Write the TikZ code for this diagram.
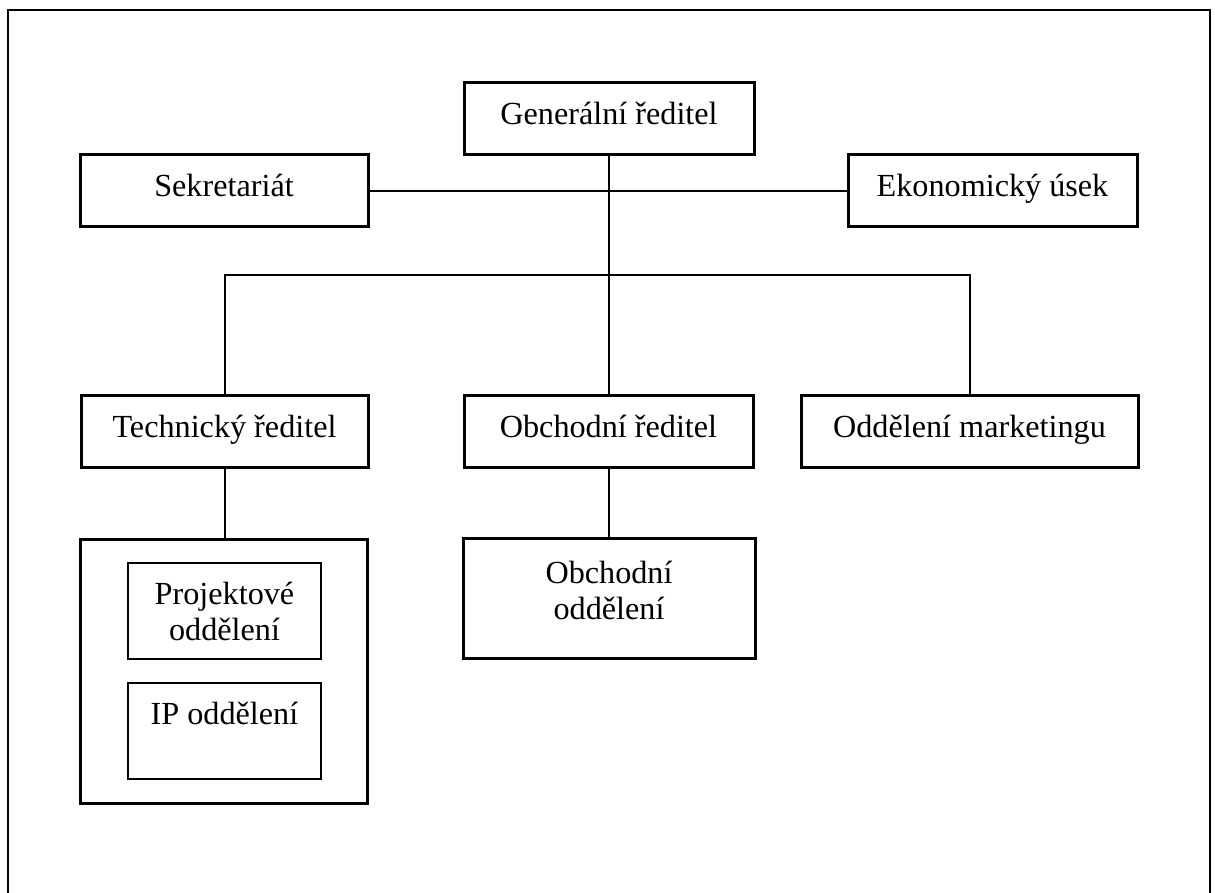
\documentclass[tikz,border=0pt]{standalone}
\usepackage{fontspec}
\setmainfont{Liberation Serif}
\usetikzlibrary{positioning}

\begin{document}
\begin{tikzpicture}[x=0.5pt,y=-0.5pt,font=\fontsize{16.1}{18}\selectfont,
box/.style={draw,line width=1.5pt,minimum width=145pt,minimum height=36pt,inner sep=0pt,text height=9pt,text depth=3pt},
inbox/.style={draw,line width=.85pt,minimum width=96.5pt,minimum height=48pt,inner sep=0pt,align=center},
link/.style={line width=1pt}]
\useasboundingbox (0,0) rectangle (1215,893);
\draw[line width=1.2pt] (8,900) -- (8,10) -- (1210,10) -- (1210,900);
% top level
\node[box] (gr) at (609,118.5) {Generální ředitel};
\node[box,minimum width=144pt] (sekr) at (224,191) {Sekretariát};
\node[box,minimum width=144.5pt] (ekon) at (992.5,191) {Ekonomický úsek};
\coordinate (bar) at (608,275);
% second level
\node[box,minimum width=143.5pt] (tech) at (224.5,431) {Technický ředitel};
\node[box,minimum width=144.5pt] (obch) at (608.5,431) {Obchodní ředitel};
\node[box,minimum width=168.5pt] (mark) at (969.5,431) {Oddělení marketingu};
% departments
\node[box,minimum width=143.5pt,minimum height=132pt] (techgrp) at (223.5,671) {};
\node[inbox] (proj) at (224.5,611) {Projektové\\oddělení};
\node[inbox] (ip) at (224.5,731) {IP oddělení\\\mbox{}};
\node[box,minimum width=146pt,minimum height=60pt] (obod) at (609,598) {};
\node[align=center] (obodtxt) at (609,590) {Obchodní\\oddělení};
% connectors
\draw[link] (gr.south) -- (gr.south |- bar);
\draw[link] (sekr) -- (ekon);
\draw[link] (tech.north) -- (tech.north |- bar) -- (mark.north |- bar) -- (mark.north);
\draw[link] (obch.north) -- (obch.north |- bar);
\draw[link] (tech.south) -- (tech.south |- techgrp.north);
\draw[link] (obch.south) -- (obch.south |- obod.north);
\end{tikzpicture}
\end{document}
